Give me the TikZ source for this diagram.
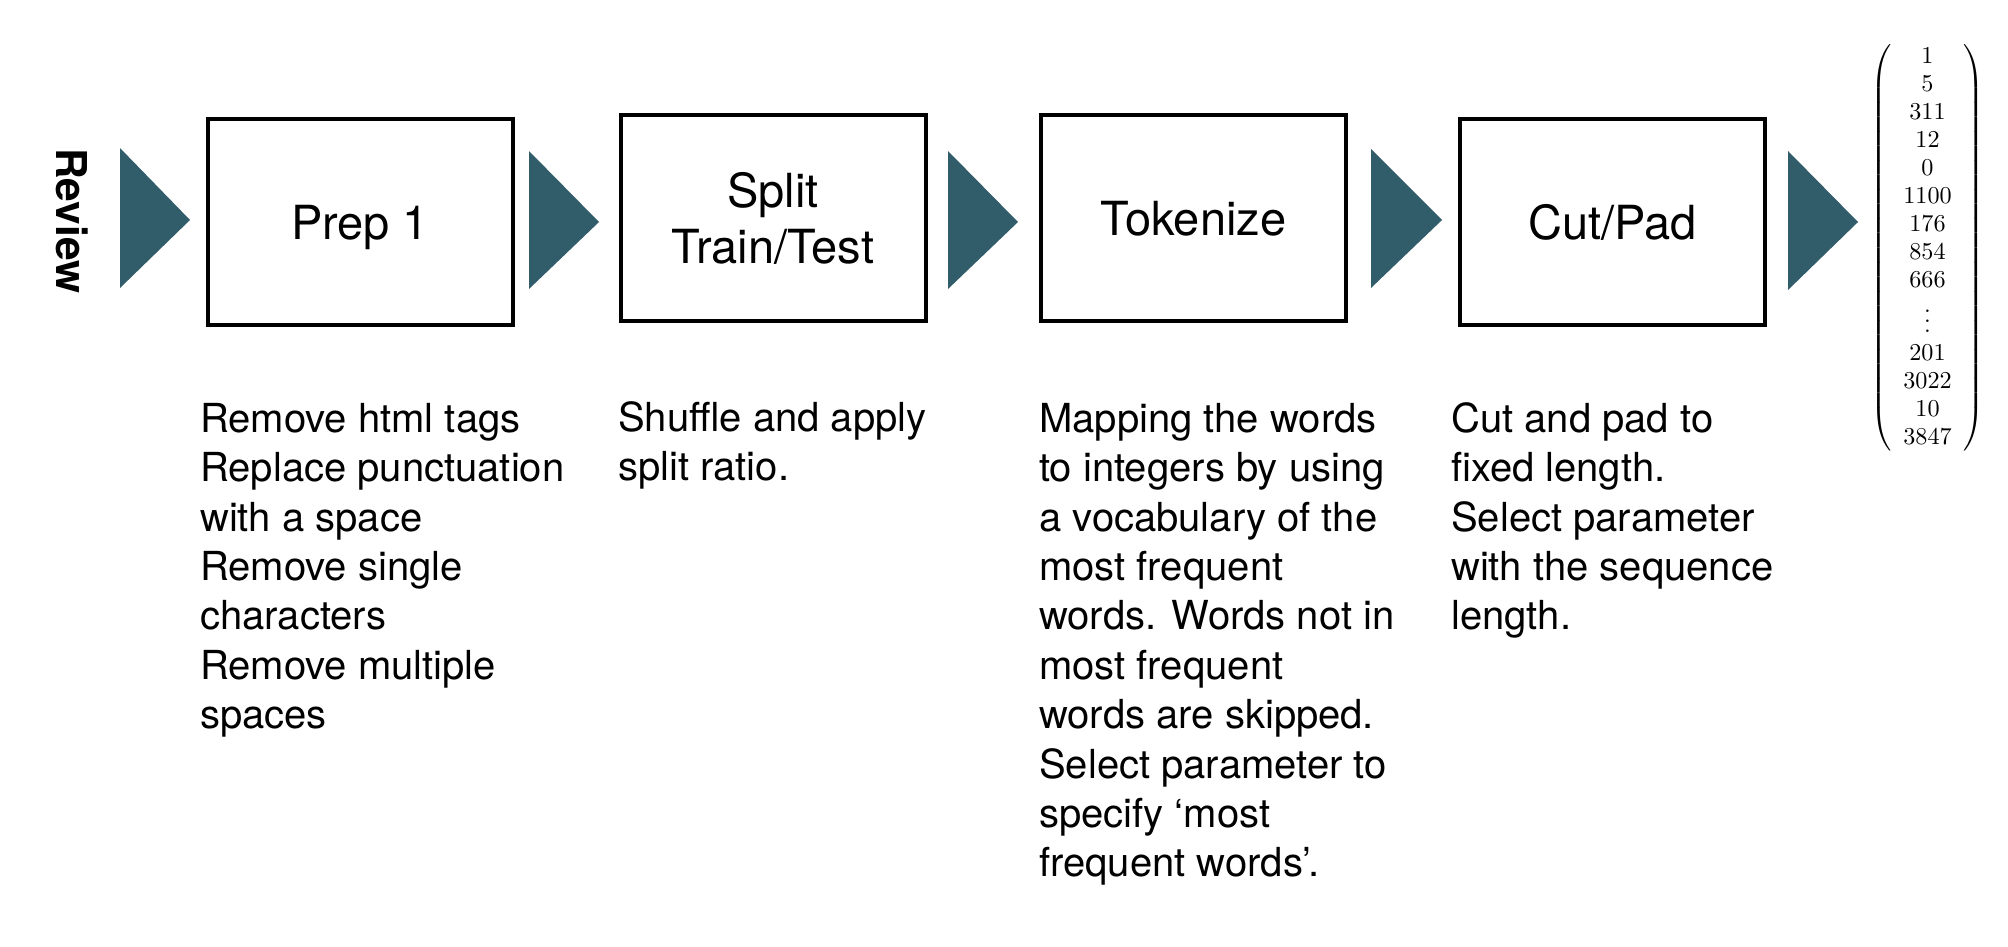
\documentclass[tikz,border=0pt]{standalone}
\usepackage{amsmath}
\usepackage{graphicx}
\usepackage{fontspec}
\newfontfamily\hel{TeX Gyre Heros}
\definecolor{arrowteal}{RGB}{49,92,105}
\begin{document}
\begin{tikzpicture}[x=1pt,y=-1pt,
  stepbox/.style={draw=black, line width=4pt, minimum width=305pt, minimum height=206pt, inner sep=0pt},
  boxtext/.style={font=\hel\fontsize{47}{56}\selectfont, inner sep=0pt, anchor=base},
  desc/.style={font=\hel\fontsize{40}{49.4}\selectfont, align=left, inner sep=0pt, anchor=north west},
  tri/.style={fill=arrowteal}]
\useasboundingbox (0,0) rectangle (2008,946);

\node[font=\hel\bfseries\fontsize{42.5}{50}\selectfont, rotate=-90, inner sep=0pt] (review) at (72.5,221) {Review};

\fill[tri] (120,148) -- (120,288) -- (190,220) -- cycle;
\fill[tri] (529,151) -- (529,289) -- (599,222) -- cycle;
\fill[tri] (948,151) -- (948,289) -- (1018,222) -- cycle;
\fill[tri] (1371,149) -- (1371,288) -- (1442,220) -- cycle;
\fill[tri] (1788,151) -- (1788,290) -- (1858,222) -- cycle;

\node[stepbox] (b1) at (360,221.5) {};
\node[stepbox] (b2) at (773,217.5) {};
\node[stepbox] (b3) at (1193.5,217.5) {};
\node[stepbox] (b4) at (1612.5,221.5) {};

\node[boxtext] (t1) at ([yshift=-18pt]b1.center) {Prep 1};
\node[boxtext] (t2a) at ([yshift=10.5pt]b2.center) {Split};
\node[boxtext] (t2b) at ([yshift=-45.5pt]b2.center) {Train/Test};
\node[boxtext] (t3) at ([yshift=-18pt]b3.center) {Tokenize};
\node[boxtext] (t4) at ([yshift=-18pt]b4.center) {Cut/Pad};

\node[desc] (d1) at (200,402) {\rule{0pt}{30pt}Remove html tags\\Replace punctuation\\with a space\\Remove single\\characters\\Remove multiple\\spaces};
\node[desc] (d2) at (618,401) {\rule{0pt}{30pt}Shuffle and apply\\split ratio.};
\node[desc] (d3) at (1039,402) {\rule{0pt}{30pt}Mapping the words\\to integers by using\\a vocabulary of the\\most frequent\\words. Words not in\\most frequent\\words are skipped.\\Select parameter to\\specify ‘most\\frequent words’.};
\node[desc] (d4) at (1451,402) {\rule{0pt}{30pt}Cut and pad to\\fixed length.\\Select parameter\\with the sequence\\length.};

\node[inner sep=0pt] (vec) at (1927.5,248) {\scalebox{2.42}{$\renewcommand{\arraystretch}{0.965}\left(\begin{array}{c}1\\5\\311\\12\\0\\1100\\176\\854\\666\\\vdots\\201\\3022\\10\\3847\end{array}\right)$}};
\end{tikzpicture}
\end{document}
